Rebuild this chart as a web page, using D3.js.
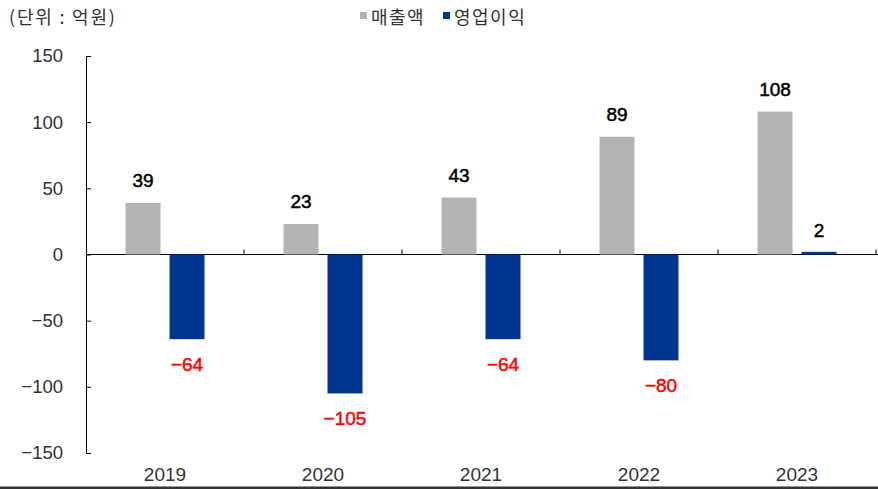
<!DOCTYPE html>
<html><head><meta charset="utf-8">
<script src="https://cdn.jsdelivr.net/npm/d3@7"></script>
<style>
body{margin:0;background:#fff;}
text{font-family:"Liberation Sans","Noto Sans CJK KR",sans-serif;}
</style></head>
<body>
<svg id="c" width="878" height="489"></svg>
<script>
const years = ["2019","2020","2021","2022","2023"];
const sales = [39,23,43,89,108];
const opProfit = [-64,-105,-64,-80,2];
const yTicks = [150,100,50,0,-50,-100,-150];
const seriesNames = ["매출액","영업이익"];
const colors = ["#b3b3b3","#003591"];

const svg = d3.select("#c");
const x = d3.scaleBand().domain(years).range([86,876]);
const y = d3.scaleLinear().domain([-150,150]).range([453,56]);
const kr = "'Noto Sans CJK KR',sans-serif";
const fmt = d=> d<0 ? "\u2212"+Math.abs(d) : d;

// y axis
const yAxis = svg.append("g").attr("transform","translate(86,0)")
  .call(d3.axisLeft(y).tickValues(yTicks).tickSizeInner(-5).tickSizeOuter(-5).tickPadding(23).tickFormat(fmt));
yAxis.selectAll("text").attr("font-size",18.5).attr("fill","#333").attr("font-family",null);
yAxis.selectAll("line,path").attr("stroke","#000");

// zero line
svg.append("line").attr("x1",86).attr("x2",878).attr("y1",y(0)).attr("y2",y(0)).attr("stroke","#000");
// category ticks
const bounds = years.map(d=>x(d)+x.bandwidth());
svg.selectAll(".ct").data(bounds).join("line").attr("x1",d=>d).attr("x2",d=>d)
  .attr("y1",y(0)).attr("y2",y(0)-5).attr("stroke","#000");

// x labels
svg.selectAll(".xl").data(years).join("text").attr("x",d=>x(d)+x.bandwidth()/2).attr("y",481)
  .attr("text-anchor","middle").attr("font-size",19).attr("fill","#333").text(d=>d);

const bw = 35, gap = 9;
const xs = d=>x(d)+x.bandwidth()/2 - gap/2 - bw;
const xo = d=>x(d)+x.bandwidth()/2 + gap/2;

svg.selectAll(".bs").data(years).join("rect")
  .attr("x",d=>xs(d)).attr("width",bw)
  .attr("y",(d,i)=>y(sales[i])).attr("height",(d,i)=>y(0)-y(sales[i])).attr("fill",colors[0]);
svg.selectAll(".bo").data(years).join("rect")
  .attr("x",d=>xo(d)).attr("width",bw)
  .attr("y",(d,i)=>y(Math.max(0,opProfit[i]))).attr("height",(d,i)=>Math.abs(y(0)-y(opProfit[i]))).attr("fill",colors[1]);

// labels
svg.selectAll(".ls").data(years).join("text")
  .attr("x",d=>xs(d)+bw/2).attr("y",(d,i)=>y(sales[i])-16)
  .attr("text-anchor","middle").attr("font-size",19).attr("fill","#000")
  .attr("stroke","#000").attr("stroke-width",0.5)
  .text((d,i)=>sales[i]);
svg.selectAll(".lo").data(years).join("text")
  .attr("x",d=>xo(d)+bw/2).attr("y",(d,i)=>opProfit[i]<0 ? y(opProfit[i])+32 : y(opProfit[i])-15)
  .attr("text-anchor","middle").attr("font-size",19)
  .attr("fill",(d,i)=>opProfit[i]<0?"#ff0000":"#000")
  .attr("stroke",(d,i)=>opProfit[i]<0?"#ff0000":"#000").attr("stroke-width",0.5)
  .text((d,i)=>fmt(opProfit[i]));

// title
svg.append("text").attr("x",9).attr("y",24).attr("font-size",18).attr("fill","#333")
  .attr("letter-spacing",1.8).style("font-family",kr).text("(단위 : 억원)");

// legend
const leg = [{x:360,n:seriesNames[0],c:colors[0]},{x:443,n:seriesNames[1],c:colors[1]}];
leg.forEach(l=>{
  svg.append("rect").attr("x",l.x).attr("y",12).attr("width",7).attr("height",7).attr("fill",l.c);
  svg.append("text").attr("x",l.x+11).attr("y",24).attr("font-size",18).attr("fill","#333")
    .attr("letter-spacing",1.5).style("font-family",kr).text(l.n);
});

// bottom bar
svg.append("rect").attr("x",0).attr("y",486.5).attr("width",878).attr("height",3).attr("fill","#333");
</script>
</body></html>
